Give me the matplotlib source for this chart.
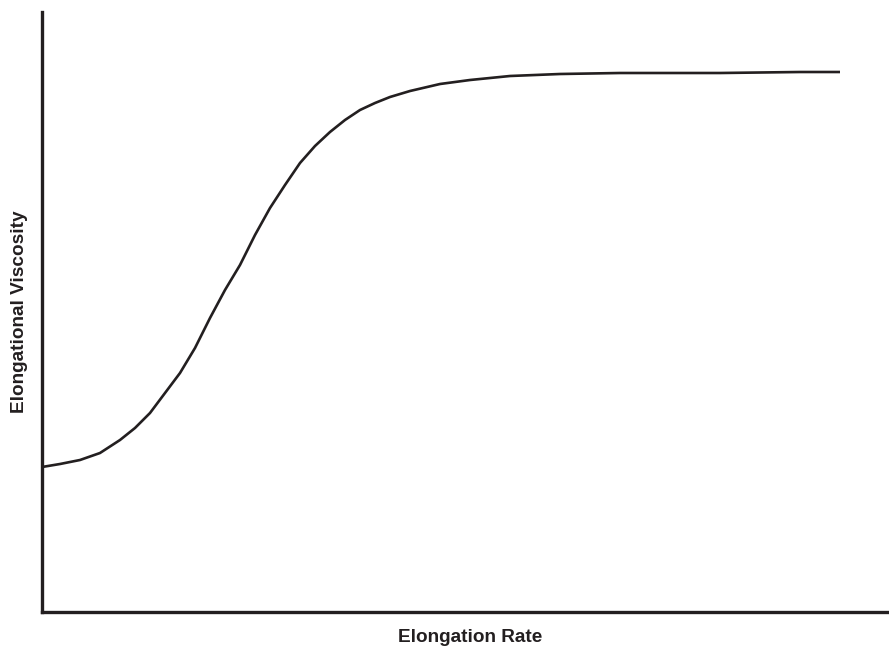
import matplotlib.pyplot as plt

# elongation rate / elongational viscosity (arbitrary units)
rate = [0, 18, 38, 58, 78, 93, 108, 123, 138, 153, 168, 183, 198, 213, 228,
        243, 258, 273, 288, 303, 318, 333, 348, 368, 398, 428, 468, 518, 578,
        678, 758, 798]
viscosity = [145, 148, 152, 159, 172, 184, 199, 219, 239, 264, 294, 322, 347,
             377, 404, 427, 449, 466, 480, 492, 502, 509, 515, 521, 528, 532,
             536, 538, 539, 539, 540, 540]

ink = "#231f20"

fig = plt.figure(figsize=(8.89, 6.5), dpi=100)
ax = fig.add_axes([42 / 889, 38 / 650, 847 / 889, 600 / 650])

ax.plot(rate, viscosity, color=ink, lw=1.9, solid_capstyle="butt")

ax.set_xlim(0, 847)
ax.set_ylim(0, 600)
ax.set_xticks([])
ax.set_yticks([])
for side in ["top", "right"]:
    ax.spines[side].set_visible(False)
for side in ["left", "bottom"]:
    ax.spines[side].set_linewidth(2.4)
    ax.spines[side].set_color(ink)

font = dict(family=["Liberation Sans", "DejaVu Sans"], weight="bold",
            fontsize=13.7, color=ink)
ax.set_xlabel("Elongation Rate", **font)
ax.set_ylabel("Elongational Viscosity", labelpad=10, **font)
ax.xaxis.set_label_coords(0.506, -0.028)

fig.savefig("out.png", dpi=100)
